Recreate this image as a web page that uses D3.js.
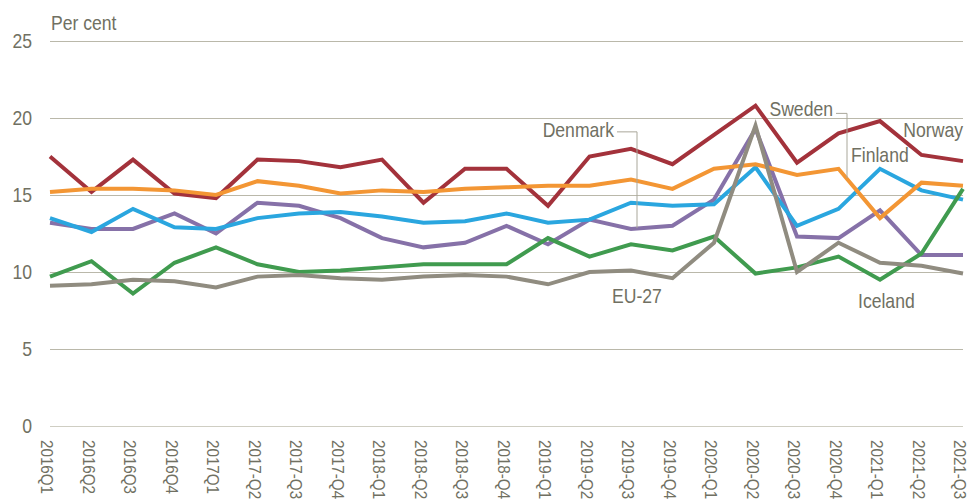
<!DOCTYPE html>
<html><head><meta charset="utf-8">
<script src="https://cdn.jsdelivr.net/npm/d3@7"></script>
<style>
html,body{margin:0;padding:0;background:#fff;}
svg text{font-family:"Liberation Sans",Arial,sans-serif;fill:#707062;}
</style></head>
<body><svg id="c" width="973" height="504"></svg>
<script>
const quarters = ["2016Q1","2016Q2","2016Q3","2016Q4","2017Q1","2017-Q2","2017-Q3","2017-Q4","2018-Q1","2018-Q2","2018-Q3","2018-Q4","2019-Q1","2019-Q2","2019-Q3","2019-Q4","2020-Q1","2020-Q2","2020-Q3","2020-Q4","2021-Q1","2021-Q2","2021-Q3"];
const norway  = [17.5,15.2,17.3,15.1,14.8,17.3,17.2,16.8,17.3,14.5,16.7,16.7,14.3,17.5,18.0,17.0,18.9,20.8,17.1,19.0,19.8,17.6,17.2];
const sweden  = [15.2,15.4,15.4,15.3,15.0,15.9,15.6,15.1,15.3,15.2,15.4,15.5,15.6,15.6,16.0,15.4,16.7,17.0,16.3,16.7,13.5,15.8,15.6];
const finland = [13.5,12.6,14.1,12.9,12.8,13.5,13.8,13.9,13.6,13.2,13.3,13.8,13.2,13.4,14.5,14.3,14.4,16.8,13.0,14.1,16.7,15.3,14.7];
const denmark = [13.2,12.8,12.8,13.8,12.5,14.5,14.3,13.5,12.2,11.6,11.9,13.0,11.8,13.4,12.8,13.0,14.7,19.3,12.3,12.2,14.0,11.1,11.1];
const iceland = [9.7,10.7,8.6,10.6,11.6,10.5,10.0,10.1,10.3,10.5,10.5,10.5,12.2,11.0,11.8,11.4,12.3,9.9,10.3,11.0,9.5,11.2,15.4];
const eu27    = [9.1,9.2,9.5,9.4,9.0,9.7,9.8,9.6,9.5,9.7,9.8,9.7,9.2,10.0,10.1,9.6,11.9,19.5,10.0,11.9,10.6,10.4,9.9];
const yTicks  = [0,5,10,15,20,25];

const series = [
  {name:"Norway",  values:norway,  color:"#a3323b"},
  {name:"Denmark", values:denmark, color:"#8671a8"},
  {name:"Finland", values:finland, color:"#2aa6df"},
  {name:"Sweden",  values:sweden,  color:"#f39634"},
  {name:"Iceland", values:iceland, color:"#409b4f"},
  {name:"EU-27",   values:eu27,    color:"#908c80"}
];

const svg = d3.select("#c");
const x = d3.scalePoint().domain(quarters).range([50,963]);
const y = d3.scaleLinear().domain([0,25]).range([426,41]);
const SX = 0.88;

// gridlines
svg.append("g").selectAll("line").data(yTicks).join("line")
  .attr("x1",50).attr("x2",963)
  .attr("y1",d=>Math.round(y(d))+0.5).attr("y2",d=>Math.round(y(d))+0.5)
  .attr("stroke",d=>d===0?"#cfcec3":"#bab8aa").attr("stroke-width",1);

// y tick labels
svg.append("g").selectAll("text").data(yTicks).join("text")
  .attr("transform",d=>`translate(32,${y(d)}) scale(${SX},1)`).attr("dy","0.36em")
  .attr("text-anchor","end").style("font-size","20px").text(d=>d);

svg.append("text").attr("transform",`translate(51,30) scale(${SX},1)`)
  .style("font-size","20px").text("Per cent");

// x labels
svg.append("g").selectAll("text").data(quarters).join("text")
  .attr("transform",d=>`translate(${x(d)-3},440) rotate(90) scale(0.95,1)`)
  .attr("dy","0.35em").style("font-size","16px").text(d=>d);

// lines
const line = d3.line().x((d,i)=>x(quarters[i])).y(d=>y(d));
svg.append("g").selectAll("path").data(series).join("path")
  .attr("d",d=>line(d.values)).attr("fill","none")
  .attr("stroke",d=>d.color).attr("stroke-width",4)
  .attr("stroke-linejoin","miter").attr("stroke-linecap","butt");

// labels
const lab = (t,q,v,anchor,dx)=>svg.append("text")
  .attr("transform",`translate(${x(q)+dx},${y(v)}) scale(${SX},1)`)
  .attr("text-anchor",anchor).style("font-size","20px").text(t);
lab("Denmark","2019-Q3",18.77,"end",-17);
lab("Sweden","2020-Q4",20.1,"end",-5.5);
lab("Finland","2021-Q1",17.15,"start",-29);
lab("Norway","2021-Q3",18.77,"end",0);
lab("EU-27","2019-Q3",8.0,"start",-19);
lab("Iceland","2021-Q1",7.65,"start",-22);

// leaders
const leader = (q,dx,vTop,vBot,len)=>{
  const lx = x(q)+dx;
  svg.append("path").attr("fill","none").attr("stroke","#a9a79a").attr("stroke-width",1)
    .attr("d",`M${lx-len},${y(vTop)}H${lx}V${y(vBot)}`);
};
leader("2019-Q3",6,19.1,12.85,20);
leader("2020-Q4",8.5,20.3,16.1,11);
</script></body></html>
